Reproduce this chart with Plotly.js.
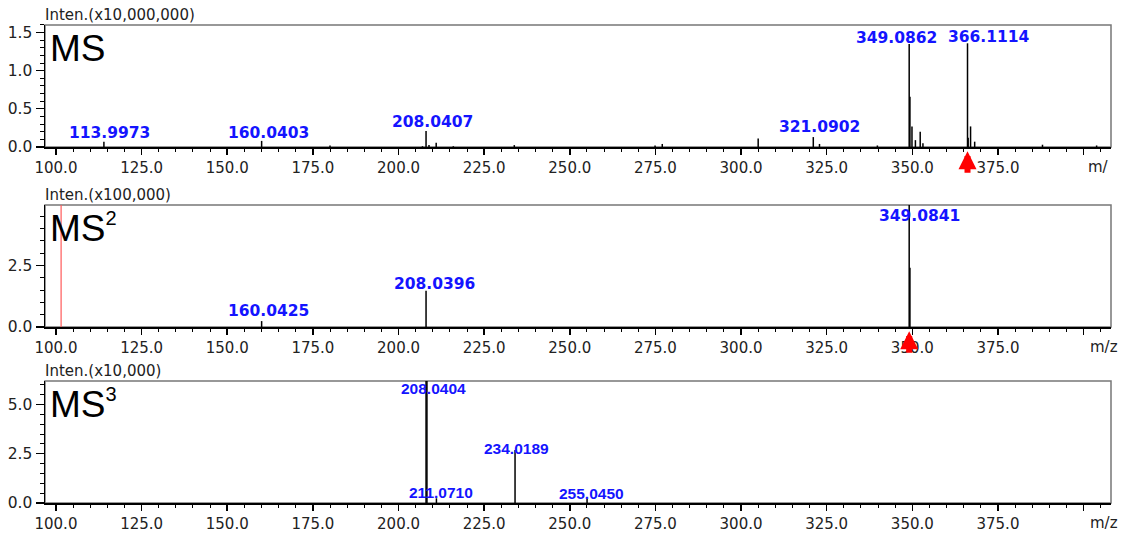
<!DOCTYPE html>
<html><head><meta charset="utf-8">
<script src="https://cdn.plot.ly/plotly-3.0.1.min.js"></script>
<style>html,body{margin:0;padding:0;background:#fff;}#chart{width:1126px;height:533px;}</style>
</head><body><div id="chart"></div>
<script>
// ---------- DATA ----------
// MS (intensity x10,000,000)
const ms1Mz  = [113.9973, 160.0403, 180.0, 207.0, 208.0407, 208.9, 211.0, 216.0, 233.8, 274.9, 277.0, 305.0, 321.0902, 322.9, 339.8, 349.0862, 349.3, 349.9, 350.9, 352.3, 353.1, 366.1114, 366.3, 367.0, 368.2, 388.0, 403.8];
const ms1Int = [0.07,     0.08,     0.02,  0.01,  0.21,     0.025, 0.055, 0.01,  0.025, 0.02,  0.04,  0.11,  0.13,     0.04,  0.02,  1.35,     0.66,  0.27,  0.09,  0.20,  0.05,  1.36,     0.12,  0.27,  0.07,  0.03,  0.02];
const ms1Labels = ["113.9973", "160.0403", "208.0407", "321.0902", "349.0862", "366.1114"];
// MS2 (intensity x100,000)
const ms2Mz  = [160.0425, 208.0396, 349.0841, 349.3];
const ms2Int = [0.24,     1.47,     5.0,      2.4];
const ms2Labels = ["160.0425", "208.0396", "349.0841"];
const ms2MarkerMz = [101.5];
// MS3 (intensity x10,000)
const ms3Mz  = [208.0404, 208.3, 211.0710, 234.0189, 255.0450];
const ms3Int = [6.3,      6.3,   0.24,     2.69,     0.2];
const ms3Labels = ["208.0404", "211.0710", "234.0189", "255.0450"];
// precursor arrows
const precursorMz = [366.1114, 349.0841];

const xTickVals = [100, 125, 150, 175, 200, 225, 250, 275, 300, 325, 350, 375, 400];
const xTickText = ["100.0", "125.0", "150.0", "175.0", "200.0", "225.0", "250.0", "275.0", "300.0", "325.0", "350.0", "375.0", " "];
const yTicks1 = [0, 0.5, 1.0, 1.5], yText1 = ["0.0", "0.5", "1.0", "1.5"];
const yTicks2 = [0, 2.5], yText2 = ["0.0", "2.5"];
const yTicks3 = [0, 2.5, 5.0], yText3 = ["0.0", "2.5", "5.0"];
const panelTitles = ["MS", "MS<sup><span style=\"font-size:20px\">2</span></sup>", "MS<sup><span style=\"font-size:20px\">3</span></sup>"];
const intenTitles = ["Inten.(x10,000,000)", "Inten.(x100,000)", "Inten.(x10,000)"];
const axisUnitText = ["m/", "m/z", "m/z"];

// ---------- STYLE / LAYOUT ----------
const X_RANGE = [96.8, 408.0];
const Y_RANGES = [[0, 1.6], [0, 4.95], [0, 6.2]];
const DOMAINS = [[0.7242, 0.9531], [0.3865, 0.6154], [0.0563, 0.2852]];
const labelShifts = [
  [[6, 9], [7, 8], [6, 9], [6, 10], [-13, 6], [21, 6]],
  [[7, 10], [8, 7], [10, -11]],
  [[7, -8], [5, 6], [1, 2], [4, 6]]
];
const labelFonts = [
  {family: 'DejaVu Sans', size: 15.5, color: '#1414ff', weight: 'bold'},
  {family: 'DejaVu Sans', size: 15.5, color: '#1414ff', weight: 'bold'},
  {family: 'Liberation Sans', size: 15.5, color: '#1414ff', weight: 'bold'}
];

function stems(mz, inten, xa, ya) {
  const xs = [], ys = [];
  for (let i = 0; i < mz.length; i++) { xs.push(mz[i], mz[i], null); ys.push(0, inten[i], null); }
  return {type: 'scatter', mode: 'lines', x: xs, y: ys, xaxis: xa, yaxis: ya,
          line: {color: '#000', width: 1.5}, hoverinfo: 'skip', showlegend: false};
}

const panels = [
  {mz: ms1Mz, it: ms1Int, labels: ms1Labels},
  {mz: ms2Mz, it: ms2Int, labels: ms2Labels},
  {mz: ms3Mz, it: ms3Int, labels: ms3Labels}
];
const yTickSets = [[yTicks1, yText1, 0.1], [yTicks2, yText2, 0.5], [yTicks3, yText3, 0.5]];

const data = [];
const layout = {
  width: 1126, height: 533,
  margin: {l: 45, r: 15, t: 0, b: 0},
  paper_bgcolor: '#fff', plot_bgcolor: '#fff',
  showlegend: false,
  annotations: [], shapes: []
};
const tickFont = {family: 'DejaVu Sans', size: 15, color: '#222'};

panels.forEach((p, k) => {
  const n = k === 0 ? '' : String(k + 1);
  const xa = 'x' + n, ya = 'y' + n;
  data.push(stems(p.mz, p.it, xa, ya));
  layout['xaxis' + n] = {
    domain: [0, 1], anchor: ya, range: X_RANGE, tickmode: 'array',
    tickvals: xTickVals, ticktext: xTickText, ticks: 'outside', ticklen: 6,
    tickwidth: 1.5, tickcolor: '#000',
    minor: {tickmode: 'linear', tick0: 0, dtick: 5, ticks: 'outside', ticklen: 3, tickwidth: 1, tickcolor: '#000', showgrid: false},
    showline: true, linecolor: '#000', linewidth: 2, showgrid: false, zeroline: false,
    tickfont: tickFont, fixedrange: true
  };
  const ys = yTickSets[k];
  layout['yaxis' + n] = {
    domain: DOMAINS[k], anchor: xa, range: Y_RANGES[k], tickmode: 'array',
    tickvals: ys[0], ticktext: ys[1], ticks: 'outside', ticklen: 8, tickwidth: 1.2, tickcolor: '#000',
    minor: {tickmode: 'linear', tick0: 0, dtick: ys[2], ticks: 'outside', ticklen: 4, tickwidth: 1, tickcolor: '#000', showgrid: false},
    showline: true, linecolor: '#000', linewidth: 1.5, showgrid: false, zeroline: false,
    tickfont: {family: 'DejaVu Sans', size: 15.5, color: '#222'}, fixedrange: true
  };
  // frame
  layout.shapes.push({type: 'rect', xref: xa + ' domain', yref: ya + ' domain', x0: 0, x1: 1, y0: 0, y1: 1,
    line: {color: '#777', width: 1.5}, layer: 'below'});
  // peak labels (anchored at the peak top, kept inside the visible range)
  const yMax = Y_RANGES[k][1];
  p.labels.forEach((lab, j) => {
    const idx = p.mz.indexOf(parseFloat(lab));
    const sh = labelShifts[k][j];
    layout.annotations.push({xref: xa, yref: ya, x: p.mz[idx], y: Math.min(p.it[idx], yMax), text: lab,
      showarrow: false, xanchor: 'center', yanchor: 'middle', xshift: sh[0], yshift: sh[1],
      font: labelFonts[k]});
  });
  // panel title
  layout.annotations.push({xref: xa + ' domain', yref: ya + ' domain', x: 0, y: 1, text: panelTitles[k],
    showarrow: false, xanchor: 'left', yanchor: 'bottom', xshift: 3, yshift: -46,
    font: {family: 'Liberation Sans', size: 37, color: '#000'}});
  // intensity unit
  layout.annotations.push({xref: xa + ' domain', yref: ya + ' domain', x: 0, y: 1, text: intenTitles[k],
    showarrow: false, xanchor: 'left', yanchor: 'bottom', xshift: -2, yshift: -1,
    font: {family: 'DejaVu Sans', size: 15, color: '#222'}});
  // m/z
  layout.annotations.push({xref: xa + ' domain', yref: ya + ' domain', x: 1, y: 0, text: axisUnitText[k],
    showarrow: false, xanchor: 'right', yanchor: 'middle', xshift: k === 0 ? 0 : 9, yshift: -20,
    font: tickFont});
});

// red marker line in MS2
ms2MarkerMz.forEach(m => layout.shapes.push({type: 'line', xref: 'x2', yref: 'y2 domain', x0: m, x1: m, y0: 0, y1: 1,
  line: {color: '#ff5a5a', width: 1.2}, layer: 'above'}));

// precursor arrows
[['x', 'y'], ['x2', 'y2']].forEach((ax, i) => {
  layout.annotations.push({xref: ax[0], yref: ax[1] + ' domain', x: precursorMz[i], y: -0.035,
    text: '', showarrow: true, arrowhead: 2, arrowsize: 0.6, arrowwidth: 6, arrowcolor: '#ff0000',
    ax: 0, ay: 23, axref: 'pixel', ayref: 'pixel', standoff: 0, startstandoff: 0});
});

Plotly.newPlot('chart', data, layout, {staticPlot: true, displayModeBar: false});
</script>
</body></html>
